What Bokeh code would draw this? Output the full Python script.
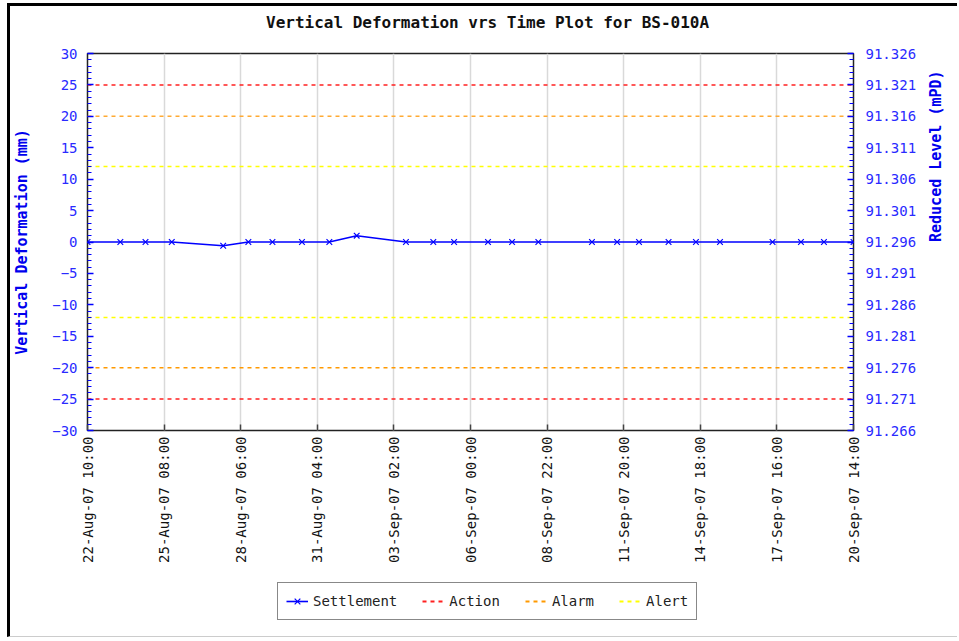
import math
from datetime import datetime
from bokeh.plotting import figure
from bokeh.layouts import column
from bokeh.models import (Range1d, LinearAxis, FixedTicker, SingleIntervalTicker, Div,
                          DatetimeTickFormatter, PrintfTickFormatter, Legend, LegendItem)
from bokeh.embed import file_html
from bokeh.resources import INLINE

# ---------------- data ----------------
dates = ["2007-08-22 10:00", "2007-08-23 16:00", "2007-08-24 15:00", "2007-08-25 15:00",
         "2007-08-27 14:00", "2007-08-28 13:00", "2007-08-29 11:00", "2007-08-30 14:00",
         "2007-08-31 15:00", "2007-09-01 16:00", "2007-09-03 13:00", "2007-09-04 14:00",
         "2007-09-05 09:00", "2007-09-06 16:00", "2007-09-07 14:00", "2007-09-08 14:00",
         "2007-09-10 15:00", "2007-09-11 14:00", "2007-09-12 10:00", "2007-09-13 13:00",
         "2007-09-14 14:00", "2007-09-15 12:00", "2007-09-17 12:00", "2007-09-18 14:00",
         "2007-09-19 11:00", "2007-09-20 14:00"]
settlement = [0.0, 0.0, 0.0, 0.0, -0.6, 0.0, 0.0, 0.0, 0.0, 1.0, 0.0, 0.0, 0.0,
              0.0, 0.0, 0.0, 0.0, 0.0, 0.0, 0.0, 0.0, 0.0, 0.0, 0.0, 0.0, 0.0]
action_level = 25
alarm_level = 20
alert_level = 12
x_tick_dates = ["2007-08-22 10:00", "2007-08-25 08:00", "2007-08-28 06:00", "2007-08-31 04:00",
                "2007-09-03 02:00", "2007-09-06 00:00", "2007-09-08 22:00", "2007-09-11 20:00",
                "2007-09-14 18:00", "2007-09-17 16:00", "2007-09-20 14:00"]
y_min, y_max = -30, 30
rl_ticks = [91.266, 91.271, 91.276, 91.281, 91.286, 91.291, 91.296,
            91.301, 91.306, 91.311, 91.316, 91.321, 91.326]
title_text = "Vertical Deformation vrs Time Plot for BS-010A"
series_names = ["Settlement", "Action", "Alarm", "Alert"]

# ---------------- helpers ----------------
EPOCH = datetime(1970, 1, 1)
def parse(s):
    return datetime.strptime(s, "%Y-%m-%d %H:%M")
def ms(s):
    return (parse(s) - EPOCH).total_seconds() * 1000.0

x_dt = [parse(d) for d in dates]
x_start, x_end = parse(x_tick_dates[0]), parse(x_tick_dates[-1])

MONO = "DejaVu Sans Mono"
BLUE_TXT = "#2a2aff"
C_SET, C_ACT, C_ALM, C_ALM2, C_ALT = "#0000ff", "#ff2020", "#ffaa33", "#ff9900", "#ffff00"

W = 947

# ---------------- title ----------------
title = Div(text=title_text, width=W, height=32, margin=0,
            styles={"font-family": MONO, "font-weight": "bold", "font-size": "16px",
                    "color": "#111111", "line-height": "34px", "padding-left": "256px",
                    "white-space": "nowrap", "background": "white"})

# ---------------- main plot ----------------
p = figure(width=W, height=542, output_backend="svg", toolbar_location=None,
           x_axis_type="datetime", x_range=Range1d(x_start, x_end),
           y_range=Range1d(y_min, y_max),
           min_border_left=77, min_border_right=104, min_border_top=15,
           min_border_bottom=150, margin=0)
p.background_fill_color = "white"
p.border_fill_color = "white"
p.outline_line_color = "#222222"
p.outline_line_width = 1.5

p.xgrid.grid_line_color = "#d9d9d9"
p.xgrid.grid_line_width = 1.5
p.ygrid.grid_line_color = None

xax = p.xaxis[0]
xax.ticker = FixedTicker(ticks=[ms(t) for t in x_tick_dates], minor_ticks=[])
fmt = "%d-%b-%y %H:%M"
xax.formatter = DatetimeTickFormatter(microseconds=fmt, milliseconds=fmt, seconds=fmt,
                                      minsec=fmt, minutes=fmt, hourmin=fmt, hours=fmt,
                                      days=fmt, months=fmt, years=fmt)
xax.major_label_orientation = math.pi / 2
xax.major_label_text_font = MONO
xax.major_label_text_font_size = "14px"
xax.major_label_text_color = "#111111"
xax.major_label_standoff = 6
xax.axis_line_color = None
xax.major_tick_in = 6
xax.major_tick_out = 0
xax.major_tick_line_color = "#444444"
xax.major_tick_line_width = 1.5

yax = p.yaxis[0]
yax.ticker = SingleIntervalTicker(interval=5, num_minor_ticks=5)
yax.axis_label = "Vertical Deformation (mm)"
yax.axis_label_text_font = MONO
yax.axis_label_text_font_style = "bold"
yax.axis_label_text_font_size = "15px"
yax.axis_label_text_color = "#0000ee"
yax.axis_label_standoff = 18
yax.major_label_text_font = MONO
yax.major_label_text_font_size = "14px"
yax.major_label_text_color = BLUE_TXT
yax.major_label_standoff = 10
yax.axis_line_color = None
yax.major_tick_in = 6
yax.major_tick_out = 0
yax.minor_tick_in = 4
yax.minor_tick_out = 0
yax.major_tick_line_color = C_SET
yax.minor_tick_line_color = C_SET
yax.major_tick_line_width = 1.5

p.extra_y_ranges = {"rl": Range1d(rl_ticks[0], rl_ticks[-1])}
minor_rl = [round(rl_ticks[0] + 0.001 * i, 3) for i in range(61)]
rax = LinearAxis(y_range_name="rl",
                 ticker=FixedTicker(ticks=rl_ticks, minor_ticks=minor_rl),
                 formatter=PrintfTickFormatter(format="%.3f"))
rax.axis_label = "Reduced Level (mPD)"
rax.axis_label_orientation = math.pi / 2
rax.axis_label_text_font = MONO
rax.axis_label_text_font_style = "bold"
rax.axis_label_text_font_size = "15px"
rax.axis_label_text_color = "#0000ee"
rax.axis_label_standoff = 17
rax.major_label_text_font = MONO
rax.major_label_text_font_size = "14px"
rax.major_label_text_color = BLUE_TXT
rax.major_label_standoff = 12
rax.axis_line_color = None
rax.major_tick_in = 6
rax.major_tick_out = 0
rax.minor_tick_in = 4
rax.minor_tick_out = 0
rax.major_tick_line_color = C_SET
rax.minor_tick_line_color = C_SET
rax.major_tick_line_width = 1.5
p.add_layout(rax, "right")

xs = [x_start, x_end]
def hline(fig, level, color, width=1.5, dash="4 4"):
    return fig.line(xs, [level, level], line_color=color, line_width=width, line_dash=dash)

hline(p, action_level, C_ACT); hline(p, -action_level, C_ACT)
hline(p, alarm_level, C_ALM); hline(p, -alarm_level, C_ALM2)
hline(p, alert_level, C_ALT); hline(p, -alert_level, C_ALT)

p.line(x_dt, settlement, line_color=C_SET, line_width=1.6)
p.scatter(x_dt, settlement, marker="x", size=8, line_color=C_SET, line_width=1.2)

# ---------------- legend strip ----------------
# its own plot; the series are drawn there out of view, only the legend shows
q = figure(width=W, height=56, output_backend="svg", toolbar_location=None,
           x_range=Range1d(0, 1), y_range=Range1d(0, 1), min_border=0, margin=0,
           x_axis_location=None, y_axis_location=None)
q.outline_line_color = None
q.grid.visible = False
q.background_fill_color = "white"
q.border_fill_color = "white"
g_line = q.line(x_dt, settlement, line_color=C_SET, line_width=1.6)
g_pts = q.scatter(x_dt, settlement, marker="x", size=10, line_color=C_SET, line_width=1.2)
g_act = hline(q, action_level, C_ACT, 2, "4 4")
g_alm = hline(q, alarm_level, C_ALM2, 2, "4 4")
g_alt = hline(q, alert_level, C_ALT, 2, "4 4")
legend = Legend(items=[LegendItem(label=series_names[0], renderers=[g_line, g_pts]),
                       LegendItem(label=series_names[1], renderers=[g_act]),
                       LegendItem(label=series_names[2], renderers=[g_alm]),
                       LegendItem(label=series_names[3], renderers=[g_alt])],
                orientation="horizontal", location=(190, 16))
legend.label_text_font = MONO
legend.label_text_font_size = "14px"
legend.label_text_color = "#222222"
legend.glyph_width = 22
legend.label_standoff = 5
legend.spacing = 25
legend.padding = 8
legend.margin = 0
legend.border_line_color = "#111111"
legend.border_line_width = 1.5
legend.background_fill_color = "white"
q.add_layout(legend)

layout = column(title, p, q, spacing=0)
layout.styles = {"border-left": "3px solid black", "border-top": "3px solid black",
                 "border-bottom": "1px solid #cccccc",
                 "margin-left": "7px", "margin-top": "3px", "background": "white"}

open("out.html", "w").write(file_html(layout, INLINE))
